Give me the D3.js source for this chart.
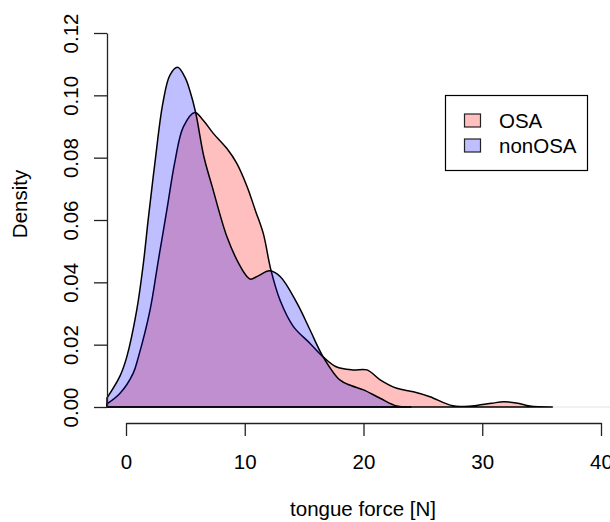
<!DOCTYPE html>
<html><head><meta charset="utf-8">
<script src="https://cdn.jsdelivr.net/npm/d3@7"></script>
<style>body{margin:0;background:#fff}svg{display:block}text{font-family:"Liberation Sans",Arial,sans-serif;fill:#000}</style>
</head><body>
<svg id="c" width="610" height="522"></svg>
<script>
const seriesNames = ["OSA", "nonOSA"];
const osaX = [-1.6,-0.5,0.6,1.04,2.02,2.72,3.43,4.13,4.83,5.8,6.5,7.35,8.48,9.33,10.2,10.9,11.56,12.2,13.0,14.1,15.5,16.6,17.7,19.1,20.3,21.4,22.8,24.2,25.6,27.3,28.5,29.5,30.8,31.8,33.0,34.0,35.9];
const osaY = [0.001,0.0044,0.0108,0.016,0.031,0.047,0.063,0.079,0.0899,0.0945,0.0920,0.0878,0.083,0.0782,0.0707,0.063,0.0557,0.044,0.034,0.0258,0.0204,0.0161,0.0129,0.0119,0.0119,0.0087,0.006,0.0049,0.0033,0.0006,0.0002,0.0005,0.0012,0.0017,0.0012,0.0003,0];
const nonX = [-1.6,-0.5,0.06,0.9,1.46,1.88,2.44,3.1,3.7,4.35,5.0,5.4,5.87,6.56,7.26,8.5,9.5,10.2,10.5,11.1,12.1,13.0,14.4,15.5,16.6,18.0,19.0,20.0,21.4,22.8,24.0];
const nonY = [0.0029,0.010,0.016,0.031,0.046,0.0605,0.0785,0.0974,0.1065,0.109,0.1055,0.1012,0.0944,0.0803,0.0707,0.0546,0.046,0.0418,0.041,0.042,0.0437,0.0418,0.0333,0.0247,0.0161,0.0087,0.0068,0.0055,0.0028,0.0003,0];
const xTicks = [0,10,20,30,40];
const yTicks = [0,0.02,0.04,0.06,0.08,0.10,0.12];
const fills = ["rgba(255,0,0,0.25)","rgba(0,0,255,0.25)"];

const svg = d3.select("#c");
const x = d3.scaleLinear().domain([0,40]).range([126,601]);
const y = d3.scaleLinear().domain([0,0.12]).range([407,33]);
const FS = "20.5px";

svg.append("line").attr("x1",107).attr("x2",610).attr("y1",y(0)).attr("y2",y(0))
  .attr("stroke","#e4e4e4").attr("stroke-width",1.2);

const area = d3.area().x(d=>x(d[0])).y0(y(0)).y1(d=>y(d[1])).curve(d3.curveCatmullRom.alpha(0.5));
const series = [d3.zip(osaX,osaY), d3.zip(nonX,nonY)];
series.forEach((s,i)=>{
  svg.append("path").attr("d",area(s)+"Z").attr("fill",fills[i])
    .attr("stroke","#000").attr("stroke-width",1.5).attr("stroke-linejoin","round");
});

const ya = svg.append("g").attr("transform","translate(107,0)")
  .call(d3.axisLeft(y).tickValues(yTicks).tickFormat(d3.format(".2f")).tickSize(13).tickSizeOuter(0));
ya.select(".domain").attr("stroke","#222").attr("stroke-width",1.3);
ya.selectAll(".tick line").attr("stroke","#222").attr("stroke-width",1.3);
ya.selectAll(".tick text").attr("font-size",FS).attr("font-family","Liberation Sans, Arial, sans-serif")
  .attr("x",0).attr("dy",0).attr("text-anchor","middle")
  .attr("transform","translate(-29,0) rotate(-90)");

const xa = svg.append("g").attr("transform","translate(0,423)")
  .call(d3.axisBottom(x).tickValues(xTicks).tickFormat(d3.format("d")).tickSize(13).tickSizeOuter(0));
xa.select(".domain").attr("stroke","#222").attr("stroke-width",1.3);
xa.selectAll(".tick line").attr("stroke","#222").attr("stroke-width",1.3);
xa.selectAll(".tick text").attr("font-size",FS).attr("font-family","Liberation Sans, Arial, sans-serif")
  .attr("y",45.5).attr("dy",0);

svg.append("text").attr("x",363).attr("y",516).attr("text-anchor","middle").attr("font-size",FS).text("tongue force [N]");
svg.append("text").attr("transform","translate(26.5,204) rotate(-90)").attr("text-anchor","middle").attr("font-size",FS).text("Density");

const lg = svg.append("g");
lg.append("rect").attr("x",445.5).attr("y",95.5).attr("width",142).attr("height",75).attr("fill","#fff").attr("stroke","#000").attr("stroke-width",1.2);
seriesNames.forEach((n,i)=>{
  lg.append("rect").attr("x",464.5).attr("y",114+i*25).attr("width",16).attr("height",13)
    .attr("fill",fills[i]).attr("stroke","#222").attr("stroke-width",1.2);
  lg.append("text").attr("x",499).attr("y",128+i*25).attr("font-size",FS).text(n);
});
</script>
</body></html>
